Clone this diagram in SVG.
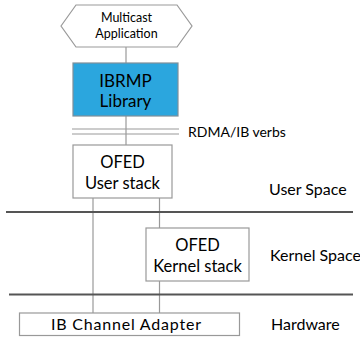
<svg xmlns="http://www.w3.org/2000/svg" width="360" height="337" viewBox="0 0 360 337">
<style>
text{font-family:Lato,"Open Sans",sans-serif;fill:#000;}
.box{fill:#fff;stroke:#999;stroke-width:1.2;}
.ln{stroke:#999;stroke-width:1.2;fill:none;}
.sep{stroke:#555;stroke-width:2;}
.c{text-anchor:middle;}
</style>
<rect width="360" height="337" fill="#fff"/>
<g id="connectors">
<line class="ln" x1="126" y1="47" x2="126" y2="63"/>
<line class="ln" x1="126" y1="116" x2="126" y2="145"/>
<line class="ln" x1="93" y1="198" x2="93" y2="313"/>
<line class="ln" x1="159.5" y1="198" x2="159.5" y2="228"/>
<line class="ln" x1="159.5" y1="281" x2="159.5" y2="313"/>
</g>
<g id="app">
<polygon class="box" points="61,26 76,5 177,5 192,26 177,47 76,47"/>
<text class="c" x="126.5" y="21.5" font-size="12.5">Multicast</text>
<text class="c" x="126.5" y="37.5" font-size="12.5">Application</text>
</g>
<g id="ibrmp">
<rect x="73" y="63" width="105" height="53" fill="#2BA6DE" stroke="#7f8f99" stroke-width="1.2"/>
<text class="c" x="125.5" y="87" font-size="17">IBRMP</text>
<text class="c" x="125.5" y="107" font-size="17">Library</text>
</g>
<g id="verbs">
<line class="ln" x1="72" y1="129" x2="179" y2="129"/>
<line class="ln" x1="72" y1="134" x2="179" y2="134"/>
<text x="188" y="137" font-size="14">RDMA/IB verbs</text>
</g>
<g id="user-stack">
<rect class="box" x="73" y="145" width="99" height="53"/>
<text class="c" x="122.5" y="168" font-size="16.5">OFED</text>
<text class="c" x="122.5" y="189" font-size="16.5">User stack</text>
</g>
<g id="layers">
<line class="sep" x1="6" y1="212" x2="353" y2="212"/>
<line class="sep" x1="9" y1="294.5" x2="353" y2="294.5"/>
<text x="269" y="195" font-size="16">User Space</text>
<text x="270" y="261" font-size="16">Kernel Space</text>
<text x="271" y="330" font-size="16">Hardware</text>
</g>
<g id="kernel-stack">
<rect class="box" x="146" y="228" width="103" height="53"/>
<text class="c" x="197.5" y="251" font-size="16.5">OFED</text>
<text class="c" x="197.5" y="272" font-size="16.5">Kernel stack</text>
</g>
<g id="adapter">
<rect class="box" x="19.5" y="313" width="220" height="22.5"/>
<text class="c" x="126" y="330" font-size="16" textLength="150" lengthAdjust="spacing">IB Channel Adapter</text>
</g>
</svg>
